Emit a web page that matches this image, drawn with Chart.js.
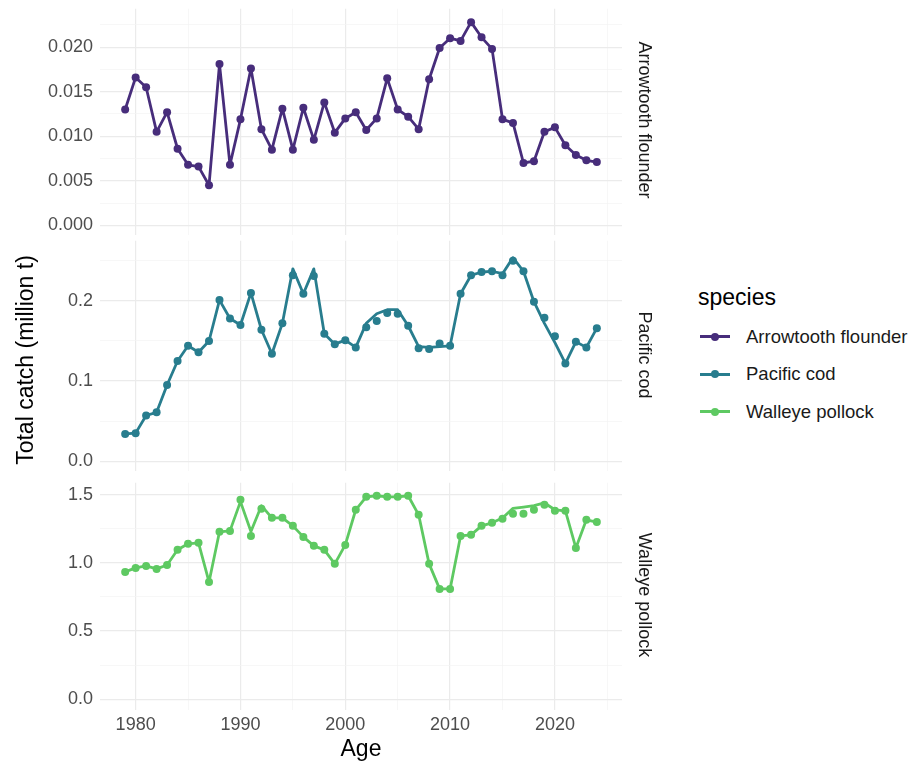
<!DOCTYPE html>
<html><head><meta charset="utf-8">
<script src="https://cdn.jsdelivr.net/npm/chart.js@4/dist/chart.umd.min.js"></script>
<style>
body{margin:0;background:#fff;font-family:"Liberation Sans",Arial,sans-serif;}
#wrap{position:relative;width:920px;height:768px;}
canvas{position:absolute;left:0;}
.strip{position:absolute;left:656px;width:240px;line-height:22px;font-size:18px;color:#1a1a1a;transform-origin:0 0;transform:rotate(90deg);white-space:nowrap;text-align:center;}
.txt{position:absolute;color:#000;white-space:nowrap;}
#legend{position:absolute;left:698px;top:282px;}
.li{display:flex;align-items:center;height:37.5px;font-size:18.5px;color:#1a1a1a;}
.key{position:relative;width:34px;height:20px;margin-right:14px;}
.key i{position:absolute;left:2px;right:2px;top:8.5px;height:3px;}
.key b{position:absolute;left:13px;top:6px;width:8px;height:8px;border-radius:50%;}
</style></head><body>
<div id="wrap">
<canvas id="c1"></canvas><canvas id="c2"></canvas><canvas id="c3"></canvas>
<div class="strip" style="top:0px;">Arrowtooth flounder</div>
<div class="strip" style="top:235px;">Pacific cod</div>
<div class="strip" style="top:475px;">Walleye pollock</div>
<div class="txt" style="left:12px;top:480px;width:240px;text-align:center;font-size:23px;transform:rotate(-90deg);transform-origin:0 0;">Total catch (million t)</div>
<div class="txt" style="left:301px;top:735px;width:120px;text-align:center;font-size:23px;">Age</div>
<div id="legend">
<div style="font-size:23px;color:#000;height:30px;line-height:30px;margin-bottom:6px;">species</div>
</div>
</div>
<script>
'use strict';
var years = [];
for (var y = 1979; y <= 2024; y++) { years.push(y); }
var speciesNames = ['Arrowtooth flounder', 'Pacific cod', 'Walleye pollock'];
var speciesColors = ['#472d7b', '#287d8e', '#5ec962'];

var arrowPoints = [0.0130,0.0166,0.0155,0.0105,0.0127,0.0086,0.0068,0.0066,0.0045,0.0181,0.0068,0.0119,0.0176,0.0108,0.0085,0.0131,0.0085,0.0132,0.0096,0.0138,0.0104,0.0120,0.0127,0.0107,0.0120,0.0165,0.0130,0.0122,0.0108,0.0164,0.0199,0.0210,0.0207,0.0228,0.0211,0.0198,0.0119,0.0115,0.0070,0.0072,0.0105,0.0110,0.0090,0.0079,0.0073,0.0071];
var arrowLine = arrowPoints.slice();

var codPoints = [0.034,0.035,0.057,0.061,0.095,0.125,0.144,0.136,0.150,0.201,0.178,0.170,0.210,0.164,0.134,0.172,0.232,0.209,0.231,0.159,0.146,0.151,0.142,0.167,0.175,0.185,0.184,0.169,0.141,0.140,0.147,0.144,0.209,0.232,0.236,0.237,0.232,0.250,0.237,0.199,0.179,0.156,0.122,0.149,0.142,0.166];
var codLine = [0.034,0.035,0.057,0.061,0.095,0.125,0.144,0.136,0.150,0.201,0.178,0.170,0.210,0.164,0.134,0.172,0.240,0.209,0.240,0.159,0.146,0.151,0.142,0.172,0.184,0.189,0.189,0.169,0.143,0.142,0.143,0.144,0.209,0.232,0.236,0.237,0.234,0.254,0.237,0.199,0.172,0.148,0.122,0.149,0.142,0.166];

var pollockPoints = [0.934,0.963,0.978,0.956,0.985,1.096,1.140,1.147,0.860,1.228,1.235,1.463,1.198,1.397,1.331,1.331,1.272,1.191,1.125,1.096,0.993,1.132,1.390,1.485,1.493,1.485,1.485,1.493,1.353,0.993,0.809,0.809,1.198,1.206,1.272,1.294,1.324,1.360,1.360,1.390,1.426,1.382,1.382,1.110,1.316,1.300];
var pollockLine = [0.934,0.963,0.978,0.956,0.985,1.096,1.140,1.147,0.860,1.228,1.235,1.450,1.230,1.420,1.331,1.331,1.272,1.191,1.125,1.096,0.993,1.132,1.390,1.485,1.493,1.485,1.485,1.493,1.353,0.993,0.809,0.809,1.198,1.206,1.272,1.294,1.330,1.400,1.410,1.420,1.440,1.390,1.382,1.110,1.316,1.300];

var panels = [
  {id:'c1', top:-9, height:262, ymin:-0.0011, ymax:0.0243, step:0.0025, major:0.005, dec:3, pts:arrowPoints, line:arrowLine, col:speciesColors[0], bottom:false},
  {id:'c2', top:223, height:266, ymin:-0.0125, ymax:0.275, step:0.05, major:0.1, dec:1, pts:codPoints, line:codLine, col:speciesColors[1], bottom:false},
  {id:'c3', top:465, height:305, ymin:-0.08, ymax:1.588, step:0.25, major:0.5, dec:1, pts:pollockPoints, line:pollockLine, col:speciesColors[2], bottom:true}
];

function isMajor(v, m) { return Math.abs(v / m - Math.round(v / m)) < 1e-6; }

panels.forEach(function (p) {
  var cv = document.getElementById(p.id);
  cv.style.top = p.top + 'px';
  cv.width = 660; cv.height = p.height;
  cv.style.width = '660px'; cv.style.height = p.height + 'px';
  new Chart(cv.getContext('2d'), {
    type: 'line',
    data: {
      datasets: [{
        data: years.map(function (yr, i) { return {x: yr, y: p.line[i]}; }),
        borderColor: p.col, borderWidth: 2.8, borderJoinStyle: 'round', pointRadius: 0, tension: 0
      }, {
        data: years.map(function (yr, i) { return {x: yr, y: p.pts[i]}; }),
        showLine: false, pointRadius: 4, pointBackgroundColor: p.col, pointBorderWidth: 0
      }]
    },
    options: {
      responsive: false, animation: false,
      layout: {padding: {top: 0, right: 38, bottom: 0, left: 0}},
      plugins: {legend: {display: false}, tooltip: {enabled: false}},
      scales: {
        x: {
          type: 'linear', min: 1976.6, max: 2026.4,
          afterBuildTicks: function (ax) {
            ax.ticks = [1980,1985,1990,1995,2000,2005,2010,2015,2020,2025].map(function (v) { return {value: v}; });
          },
          border: {display: false},
          grid: {color: function (c) { return c.tick && c.tick.value % 10 === 0 ? '#ebebeb' : '#f4f4f4'; }, lineWidth: function (c) { return c.tick && c.tick.value % 10 === 0 ? 1.2 : 0.7; }, drawTicks: false},
          ticks: {display: p.bottom, padding: 4, color: '#4d4d4d', font: {size: 18, family: 'Liberation Sans'}, callback: function (v) { return v % 10 === 0 ? String(v) : ''; }},
          afterFit: function (ax) { ax.height = p.bottom ? 60 : 0; }
        },
        y: {
          min: p.ymin, max: p.ymax,
          afterBuildTicks: function (ax) {
            var t = [];
            for (var v = 0; v <= p.ymax + 1e-9; v += p.step) { t.push({value: Math.round(v * 1e6) / 1e6}); }
            ax.ticks = t;
          },
          border: {display: false},
          grid: {color: function (c) { return c.tick && isMajor(c.tick.value, p.major) ? '#ebebeb' : '#f4f4f4'; }, lineWidth: function (c) { return c.tick && isMajor(c.tick.value, p.major) ? 1.2 : 0.7; }, drawTicks: false},
          ticks: {padding: 7, color: '#4d4d4d', font: {size: 18, family: 'Liberation Sans'}, callback: function (v) { return isMajor(v, p.major) ? v.toFixed(p.dec) : ''; }},
          afterFit: function (ax) { ax.width = 100; }
        }
      }
    }
  });
});

var legend = document.getElementById('legend');
speciesNames.forEach(function (n, i) {
  var d = document.createElement('div');
  d.className = 'li';
  d.innerHTML = '<span class="key"><i style="background:' + speciesColors[i] + '"></i><b style="background:' + speciesColors[i] + '"></b></span>' + n;
  legend.appendChild(d);
});
</script>
</body></html>
